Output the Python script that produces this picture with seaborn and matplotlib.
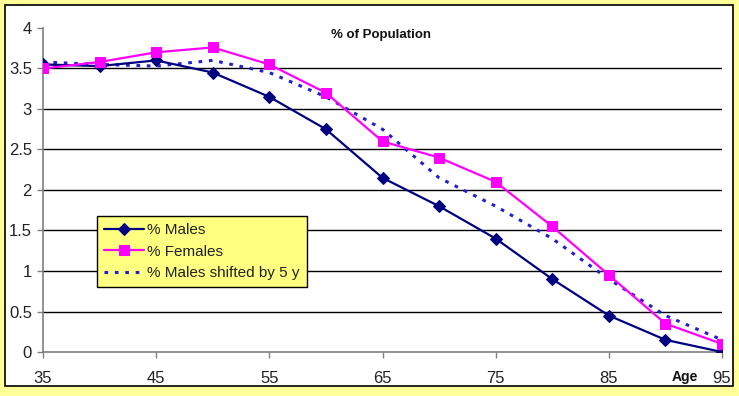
#!/usr/bin/env python3

import matplotlib
matplotlib.use("Agg")
import matplotlib.pyplot as plt
from matplotlib.patches import Rectangle
import seaborn as sns

# Data
AGES = [35, 40, 45, 50, 55, 60, 65, 70, 75, 80, 85, 90, 95]
MALES = [3.55, 3.53, 3.60, 3.45, 3.15, 2.75, 2.15, 1.80, 1.40, 0.90, 0.45, 0.15, 0.00]
FEMALES = [3.50, 3.58, 3.70, 3.76, 3.55, 3.20, 2.60, 2.40, 2.10, 1.55, 0.95, 0.35, 0.10]
MALES_SHIFTED = [3.58, 3.55, 3.53, 3.60, 3.45, 3.15, 2.75, 2.15, 1.80, 1.40, 0.90, 0.45, 0.15]

X_TICKS = [35, 45, 55, 65, 75, 85, 95]
Y_TICKS = [0, 0.5, 1, 1.5, 2, 2.5, 3, 3.5, 4]
Y_TICK_LABELS = ["0", "0.5", "1", "1.5", "2", "2.5", "3", "3.5", "4"]

COL_MALE = "#000080"
COL_FEMALE = "#FF00FF"
COL_SHIFT = "#2020D0"
BG_YELLOW = "#FFFF99"
LEGEND_YELLOW = "#FFFF80"

sns.set_style("white")
plt.rcParams['font.family'] = ['Liberation Sans', 'DejaVu Sans']

W, H = 739, 396
fig = plt.figure(figsize=(W / 100, H / 100), dpi=100)
fig.patch.set_facecolor(BG_YELLOW)

# white chart area with black border
fig.patches.append(Rectangle((5 / W, 1 - 386 / H), 728 / W, 381 / H,
                             transform=fig.transFigure, facecolor="white",
                             edgecolor="black", linewidth=1.2, zorder=-5))

ax = fig.add_axes([43 / W, 1 - 352 / H, (722 - 43) / W, (352 - 28) / H])
ax.set_zorder(2)
ax.set_facecolor("none")

# horizontal gridlines (none at top edge)
for yv in Y_TICKS[1:-1]:
    ax.axhline(yv, color="black", linewidth=1, zorder=1)

sns.lineplot(x=AGES, y=MALES, ax=ax, color=COL_MALE, linewidth=1.6,
             marker="D", markersize=6.5, markeredgecolor=COL_MALE,
             label="% Males", zorder=3)
sns.lineplot(x=AGES, y=FEMALES, ax=ax, color=COL_FEMALE, linewidth=1.6,
             marker="s", markersize=6.5, markeredgecolor=COL_FEMALE,
             label="% Females", zorder=3)
sns.lineplot(x=AGES, y=MALES_SHIFTED, ax=ax, color=COL_SHIFT, linewidth=2.2,
             linestyle=(0, (1.2, 2.2)), label="% Males shifted by 5 y", zorder=2)

ax.set_xlim(35, 95)
ax.set_ylim(0, 4)
ax.set_xticks(X_TICKS)
ax.set_xticklabels([str(t) for t in X_TICKS])
ax.set_yticks(Y_TICKS)
ax.set_yticklabels(Y_TICK_LABELS)
ax.tick_params(axis="both", direction="out", length=4, width=1, color="#808080",
               labelsize=12, labelcolor="#222222", bottom=True, left=True)
ax.tick_params(axis="y", pad=4)
ax.tick_params(axis="x", pad=10)

for side in ["top", "right"]:
    ax.spines[side].set_visible(False)
for side in ["left", "bottom"]:
    ax.spines[side].set_color("#808080")
    ax.spines[side].set_linewidth(1.2)

ax.set_xlabel("")
ax.set_ylabel("")

fig.text(381 / W, 1 - 35 / H, "% of Population", ha="center", va="center",
         fontsize=9.5, fontweight="bold", color="#111111")
fig.text(685 / W, 1 - 377 / H, "Age", ha="center", va="center",
         fontsize=10, fontweight="bold", color="#111111")

leg = ax.legend(loc="upper left", bbox_to_anchor=((97 - 43) / (722 - 43), (352 - 216) / (352 - 28)),
                frameon=True, fancybox=False, framealpha=1, facecolor=LEGEND_YELLOW,
                edgecolor="black", fontsize=11, handlelength=2.6, handletextpad=0.25,
                borderpad=0.45, labelspacing=0.5, borderaxespad=0)
leg.get_frame().set_linewidth(1)
for t in leg.get_texts():
    t.set_color("#222222")

fig.savefig("out.png", dpi=100, facecolor=fig.get_facecolor())
